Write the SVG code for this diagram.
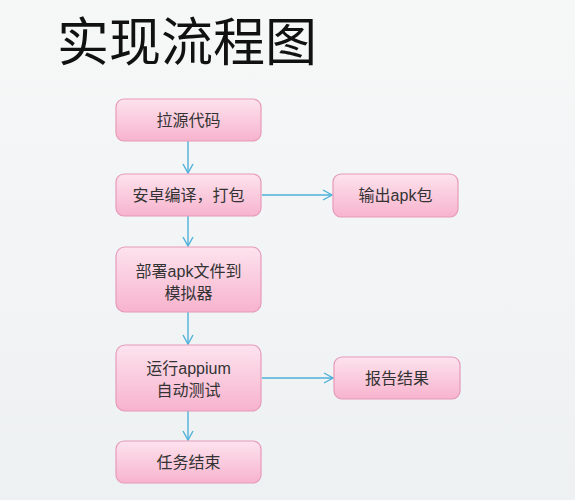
<svg xmlns="http://www.w3.org/2000/svg" width="575" height="500" viewBox="0 0 575 500">
<defs>
<linearGradient id="bg" x1="0" y1="0" x2="0" y2="1">
<stop offset="0" stop-color="#f6f8f8"/>
<stop offset="1" stop-color="#eef1f2"/>
</linearGradient>
<linearGradient id="pk" x1="0" y1="0" x2="0" y2="1">
<stop offset="0" stop-color="#fde3ee"/>
<stop offset="1" stop-color="#f7b3cd"/>
</linearGradient>
<marker id="ah" markerWidth="12" markerHeight="12" refX="10" refY="6" orient="auto" markerUnits="userSpaceOnUse">
<path d="M1,1 L10,6 L1,11" fill="none" stroke="#4fb0da" stroke-width="1.4"/>
</marker>
<style>
.box{fill:url(#pk);stroke:#e69ab8;stroke-width:1.2}
.t{font-family:"Liberation Sans","Noto Sans CJK SC",sans-serif;font-size:16px;fill:#333;text-anchor:middle}
.c{stroke:#4fb0da;stroke-width:1.4;fill:none;marker-end:url(#ah)}
</style>
</defs>
<rect width="575" height="500" fill="url(#bg)"/>
<text x="57" y="61" font-family="'Noto Sans CJK SC',sans-serif" font-size="52" fill="#111">实现流程图</text>
<g id="connectors">
<line class="c" x1="188" y1="141" x2="188" y2="173"/>
<line class="c" x1="188" y1="216" x2="188" y2="246"/>
<line class="c" x1="188" y1="312" x2="188" y2="344"/>
<line class="c" x1="188" y1="411" x2="188" y2="440"/>
<line class="c" x1="262" y1="195" x2="332" y2="195"/>
<line class="c" x1="262" y1="378" x2="333" y2="378"/>
</g>
<g id="n1"><rect class="box" x="116" y="99" width="145" height="42" rx="8"/><text class="t" x="188.5" y="126">拉源代码</text></g>
<g id="n2"><rect class="box" x="116" y="174" width="145" height="42" rx="8"/><text class="t" x="188.5" y="201">安卓编译，打包</text></g>
<g id="n3"><rect class="box" x="116" y="247" width="145" height="65" rx="9"/><text class="t" x="188.5" y="277">部署apk文件到</text><text class="t" x="188.5" y="299">模拟器</text></g>
<g id="n4"><rect class="box" x="116" y="345" width="145" height="66" rx="9"/><text class="t" x="188.5" y="374">运行appium</text><text class="t" x="188.5" y="396">自动测试</text></g>
<g id="n5"><rect class="box" x="116" y="441" width="145" height="42" rx="8"/><text class="t" x="188.5" y="468">任务结束</text></g>
<g id="n6"><rect class="box" x="333" y="174" width="125" height="43" rx="8"/><text class="t" x="395.5" y="201">输出apk包</text></g>
<g id="n7"><rect class="box" x="334" y="357" width="126" height="42" rx="8"/><text class="t" x="397" y="384">报告结果</text></g>
</svg>
